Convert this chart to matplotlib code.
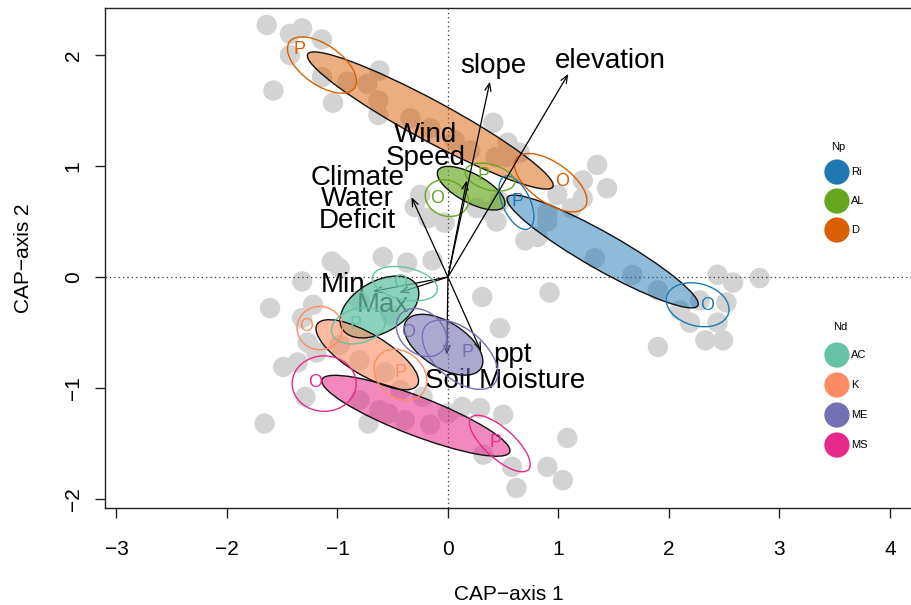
import matplotlib
matplotlib.use("Agg")
import matplotlib.pyplot as plt
from matplotlib.patches import Ellipse

plt.rcParams['font.family'] = ['Liberation Sans', 'DejaVu Sans']

# ---------------- data ----------------
# background sample scores (CAP axis 1, CAP axis 2)
pts_x = [-1.64, -1.43, -1.32, -1.14, -1.43, -1.58, -1.04, -0.62, -0.73, -0.63, -0.63, -0.91, -1.14,
         -0.34, -0.16, 0.06, 0.41, 0.54, 0.43, 0.20,
         -0.25, -0.18, -0.03, 0.26, 0.38, 0.47, 0.44, 0.53, 0.65, -0.30,
         1.35, 1.44, 1.22, 0.99, 1.12, 0.90, 0.81, 0.70, 1.22, 0.90,
         1.33, 1.67, 1.90,
         2.44, 2.58, 2.82, 2.52, 2.19, 2.44, 2.33, 2.49, 1.90, 2.10, 2.28,
         -0.59, -0.37, -0.14, 0.31, 0.92, 0.47,
         -1.05, -0.98, -1.32, -1.61, -1.22, -1.32, -1.27, -1.49, -1.36, -1.29, -1.66, -1.19, -0.72,
         -0.80, -0.52, -0.98, -0.80, -0.57, -0.43, -0.80, -0.62, -0.39, -0.16, -0.23, -0.54,
         0.00, 0.13, 0.29, 0.50, 1.08, 0.90, 1.04, 0.62, 0.58, 0.32]
pts_y = [2.27, 2.19, 2.24, 2.14, 2.00, 1.68, 1.57, 1.86, 1.74, 1.59, 1.46, 1.76, 1.80,
         1.43, 1.34, 1.23, 1.39, 1.21, 1.08, 1.14,
         0.74, 0.53, 0.49, 0.62, 0.59, 0.68, 0.50, 1.08, 1.12, 0.63,
         1.01, 0.80, 0.71, 0.74, 0.62, 0.50, 0.36, 0.33, 0.87, 0.58,
         0.17, 0.02, -0.12,
         0.02, -0.05, -0.01, -0.23, -0.41, -0.41, -0.57, -0.57, -0.63, -0.30, -0.21,
         0.18, 0.13, 0.15, -0.18, -0.14, -0.46,
         0.14, 0.08, -0.04, -0.28, -0.25, -0.37, -0.59, -0.81, -0.77, -1.08, -1.32, -0.68, -1.32,
         -0.21, -0.34, -0.61, -0.75, -0.86, -1.02, -1.11, -1.20, -1.29, -1.33, -1.08, -1.23,
         -1.23, -1.17, -1.18, -1.24, -1.45, -1.71, -1.83, -1.90, -1.71, -1.60]

# group ellipses (filled): Np groups then Nd groups
groups = ['Ri', 'AL', 'D', 'AC', 'K', 'ME', 'MS']
group_set = ['Np', 'Np', 'Np', 'Nd', 'Nd', 'Nd', 'Nd']
group_cols = ['#1F78B4', '#66A61E', '#D95F02', '#66C2A5', '#FC8D62', '#7570B3', '#E7298A']
fill_cx = [1.40, 0.21, -0.16, -0.62, -0.73, -0.04, -0.29]
fill_cy = [0.23, 0.80, 1.41, -0.27, -0.70, -0.61, -1.25]
fill_w = [1.98, 0.68, 2.52, 0.78, 1.06, 0.80, 1.82]
fill_h = [0.33, 0.26, 0.36, 0.46, 0.37, 0.41, 0.35]
fill_ang = [-29.5, -28.0, -28.3, 30.0, -31.0, -32.0, -21.0]
fill_alpha = [0.5, 0.65, 0.5, 0.75, 0.6, 0.6, 0.55]

# sub-group ellipses (outline only), labelled P / O
sub_group = ['Ri', 'Ri', 'AL', 'AL', 'D', 'D', 'AC', 'AC', 'K', 'K', 'ME', 'ME', 'MS', 'MS']
sub_label = ['P', 'O', 'O', 'P', 'P', 'O', 'O', 'P', 'O', 'P', 'O', 'P', 'O', 'P']
sub_cx = [0.62, 2.26, -0.01, 0.38, -1.14, 0.93, -0.39, -0.81, -1.16, -0.43, -0.24, 0.11, -1.12, 0.47]
sub_cy = [0.67, -0.25, 0.71, 0.90, 1.91, 0.85, -0.06, -0.44, -0.46, -0.88, -0.50, -0.70, -0.96, -1.50]
sub_w = [0.52, 0.58, 0.40, 0.46, 0.72, 0.76, 0.60, 0.50, 0.41, 0.52, 0.50, 0.81, 0.58, 0.70]
sub_h = [0.25, 0.38, 0.32, 0.23, 0.36, 0.36, 0.29, 0.31, 0.39, 0.41, 0.38, 0.45, 0.50, 0.27]
sub_ang = [-65, -15, -20, -15, -35, -35, -12, 15, 0, -40, -40, -40, 0, -42]
lab_x = [0.63, 2.35, -0.10, 0.32, -1.34, 1.03, -0.43, -0.84, -1.28, -0.43, -0.36, 0.18, -1.20, 0.43]
lab_y = [0.68, -0.26, 0.71, 0.91, 2.05, 0.86, -0.05, -0.43, -0.45, -0.86, -0.50, -0.68, -0.95, -1.49]

# environmental vectors
env_names = ['slope', 'elevation', 'Wind\nSpeed', 'Climate\nWater\nDeficit', 'Min', 'Max',
             'Soil Moisture', 'ppt']
env_x = [0.38, 1.09, 0.17, -0.33, -0.68, -0.44, -0.01, 0.30]
env_y = [1.76, 1.83, 0.87, 0.72, -0.13, -0.14, -0.70, -0.67]
env_lx = [0.41, 1.47, -0.20, -0.82, -0.95, -0.59, 0.52, 0.58]
env_ly = [1.90, 1.95, 1.18, 0.70, -0.07, -0.25, -0.94, -0.70]
env_ls = [1.0, 1.0, 0.85, 0.78, 1.0, 1.0, 1.0, 1.0]

np_groups = ['Ri', 'AL', 'D']
nd_groups = ['AC', 'K', 'ME', 'MS']

xticks = [-3, -2, -1, 0, 1, 2, 3, 4]
yticks = [-2, -1, 0, 1, 2]

# ---------------- figure ----------------
fig = plt.figure(figsize=(9.12, 6.05), dpi=100)
ax = fig.add_axes([0.1151, 0.1603, 0.8849, 0.8264])
ax.set_xlim(-3.104, 4.2)
ax.set_ylim(-2.081, 2.423)

ax.scatter(pts_x, pts_y, s=215, color='#D3D3D3', edgecolor='none', zorder=1)

ax.axhline(0, color='#333333', lw=0.9, ls=(0, (1, 2.5)), zorder=2)
ax.axvline(0, color='#333333', lw=0.9, ls=(0, (1, 2.5)), zorder=2)

for nm, ex, ey, lx, ly, lsp in zip(env_names, env_x, env_y, env_lx, env_ly, env_ls):
    ax.annotate('', xy=(ex, ey), xytext=(0, 0),
                arrowprops=dict(arrowstyle='->,head_length=0.55,head_width=0.22',
                                lw=0.9, color='black', shrinkA=0, shrinkB=0,
                                mutation_scale=10), zorder=3)
    ax.text(lx, ly, nm, fontsize=20, ha='center', va='center', ma='center',
            linespacing=lsp, zorder=3)

# Np ellipses drawn below the vectors, Nd ellipses above them
for cx, cy, w, h, a, c, al, st in zip(fill_cx, fill_cy, fill_w, fill_h, fill_ang, group_cols,
                                      fill_alpha, group_set):
    z = 2.4 if st == 'Np' else 4
    ax.add_patch(Ellipse((cx, cy), w, h, angle=a, facecolor=c, alpha=al,
                         edgecolor='none', zorder=z))
    ax.add_patch(Ellipse((cx, cy), w, h, angle=a, facecolor='none',
                         edgecolor='#111111', lw=1.0, zorder=z + 0.1))

col_of = dict(zip(groups, group_cols))
set_of = dict(zip(groups, group_set))
for g, lb, cx, cy, w, h, a, tx, ty in zip(sub_group, sub_label, sub_cx, sub_cy, sub_w, sub_h,
                                          sub_ang, lab_x, lab_y):
    z = 2.6 if set_of[g] == 'Np' else 6
    ax.add_patch(Ellipse((cx, cy), w, h, angle=a, facecolor='none',
                         edgecolor=col_of[g], lw=1.0, zorder=z))
    ax.text(tx, ty, lb, color=col_of[g], fontsize=13, ha='center', va='center', zorder=z)

# legends (drawn in axes fraction)
lx_c, lx_t = 0.907, 0.925
ax.text(0.908, 0.722, 'Np', transform=ax.transAxes, fontsize=8, ha='center', va='center')
for i, g in enumerate(np_groups):
    yy = 0.672 - i * 0.058
    ax.scatter([lx_c], [yy], s=330, color=col_of[g], transform=ax.transAxes, zorder=7,
               clip_on=False, edgecolor='none')
    ax.text(lx_t, yy, g, transform=ax.transAxes, fontsize=8, ha='left', va='center')
ax.text(0.911, 0.362, 'Nd', transform=ax.transAxes, fontsize=8, ha='center', va='center')
for i, g in enumerate(nd_groups):
    yy = 0.306 - i * 0.06
    ax.scatter([lx_c], [yy], s=330, color=col_of[g], transform=ax.transAxes, zorder=7,
               clip_on=False, edgecolor='none')
    ax.text(lx_t, yy, g, transform=ax.transAxes, fontsize=8, ha='left', va='center')

# axes styling
ax.spines['right'].set_visible(False)
for s in ['left', 'top', 'bottom']:
    ax.spines[s].set_linewidth(1.0)
    ax.spines[s].set_color('#222222')
ax.set_xticks(xticks)
ax.set_yticks(yticks)
ax.set_xticklabels([str(v).replace('-', '\u2212') for v in xticks])
ax.set_yticklabels([str(v).replace('-', '\u2212') for v in yticks])
ax.tick_params(axis='both', direction='out', length=7, width=1.0, labelsize=15, color='#222222')
ax.tick_params(axis='x', pad=16)
ax.tick_params(axis='y', pad=9)
for lab in ax.get_yticklabels():
    lab.set_rotation(90)
    lab.set_va('center')
ax.set_xlabel('CAP\u2212axis 1', fontsize=15, labelpad=19)
ax.set_ylabel('CAP\u2212axis 2', fontsize=15, labelpad=22)

fig.savefig('out.png', dpi=100)
